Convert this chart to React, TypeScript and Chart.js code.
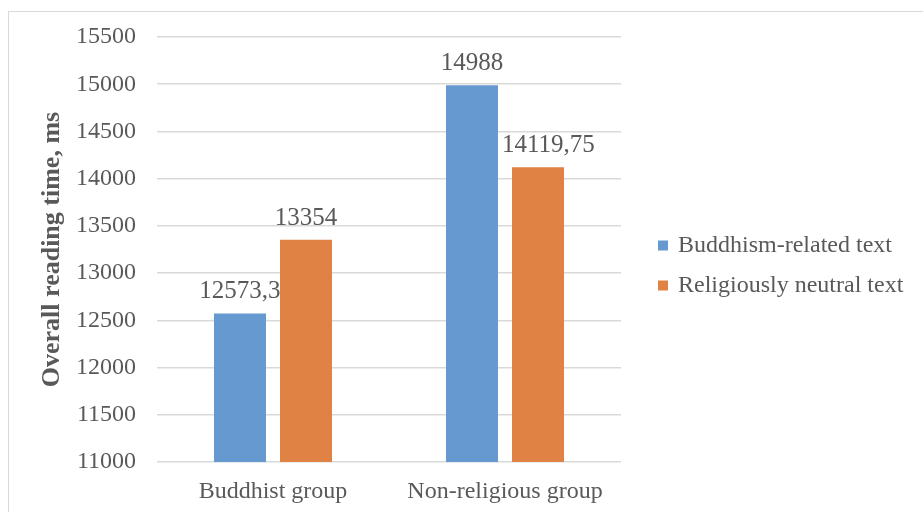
import React, { useEffect, useRef } from "react";
import { Chart, registerables } from "chart.js";

Chart.register(...registerables);

const categories = ["Buddhist group", "Non-religious group"];
const seriesNames = ["Buddhism-related text", "Religiously neutral text"];
const buddhismValues = [12573.3, 14988];
const neutralValues = [13354, 14119.75];
const yTicks = [11000, 11500, 12000, 12500, 13000, 13500, 14000, 14500, 15000, 15500];

const FONT = "'Liberation Serif', 'Times New Roman', serif";
const TEXT = "#595959";
const GRID = "#D9D9D9";

const valueLabels = {
  id: "valueLabels",
  afterDatasetsDraw(chart: any) {
    const ctx = chart.ctx;
    ctx.save();
    ctx.font = `25px ${FONT}`;
    ctx.fillStyle = TEXT;
    ctx.textAlign = "center";
    ctx.textBaseline = "alphabetic";
    chart.data.datasets.forEach((ds: any, i: number) => {
      const meta = chart.getDatasetMeta(i);
      meta.data.forEach((bar: any, j: number) => {
        const text = String(ds.data[j]).replace(".", ",");
        const w = ctx.measureText(text).width;
        let x = bar.x;
        const baseY = bar.y - 15;
        if (i > 0) {
          const prev = chart.getDatasetMeta(i - 1).data[j];
          const prevRight = prev.x + prev.width / 2;
          if (prev.y < baseY && x - w / 2 < prevRight + 4) {
            x = prevRight + 4 + w / 2;
          }
        }
        ctx.fillText(text, x, baseY);
      });
    });
    ctx.restore();
  },
};

const sideLegend = {
  id: "sideLegend",
  afterDraw(chart: any) {
    const ctx = chart.ctx;
    const area = chart.chartArea;
    const cy = (area.top + area.bottom) / 2 + 16;
    const rowGap = 40;
    const n = chart.data.datasets.length;
    const x0 = area.right + 37;
    ctx.save();
    ctx.font = `24px ${FONT}`;
    ctx.textAlign = "left";
    ctx.textBaseline = "middle";
    chart.data.datasets.forEach((ds: any, i: number) => {
      const y = cy + (i - (n - 1) / 2) * rowGap;
      ctx.fillStyle = ds.backgroundColor;
      ctx.fillRect(x0, y - 5, 10, 10);
      ctx.fillStyle = TEXT;
      ctx.fillText(ds.label, x0 + 20, y);
    });
    ctx.restore();
  },
};

export default function App() {
  const ref = useRef<HTMLCanvasElement | null>(null);
  useEffect(() => {
    if (!ref.current) return;
    const chart = new Chart(ref.current, {
      type: "bar",
      data: {
        labels: categories,
        datasets: [
          { label: seriesNames[0], data: buddhismValues, backgroundColor: "#6699D0", borderWidth: 0 },
          { label: seriesNames[1], data: neutralValues, backgroundColor: "#DF8244", borderWidth: 0 },
        ],
      },
      options: {
        animation: false,
        responsive: false,
        devicePixelRatio: 1,
        layout: { padding: { top: 37, left: 0, right: 302, bottom: 0 } },
        datasets: { bar: { barPercentage: 0.788, categoryPercentage: 0.569 } },
        scales: {
          x: {
            grid: { display: false, drawTicks: false },
            border: { display: false },
            ticks: { color: TEXT, font: { family: FONT, size: 24 }, padding: 15 },
            afterFit: (s: any) => { s.height = 50; },
          },
          y: {
            min: 11000,
            max: 15500,
            afterBuildTicks: (s: any) => { s.ticks = yTicks.map((v) => ({ value: v })); },
            grid: { color: GRID, lineWidth: 1.5, drawTicks: false },
            border: { display: false },
            ticks: {
              color: TEXT,
              font: { family: FONT, size: 24 },
              padding: 21,
              callback: (v: any) => String(v),
            },
            title: {
              display: true,
              text: "Overall reading time, ms",
              color: TEXT,
              font: { family: FONT, size: 26, weight: "bold" },
              padding: { top: 37, bottom: 0 },
            },
            afterFit: (s: any) => { s.width = 157; },
          },
        },
        plugins: {
          legend: { display: false },
          tooltip: { enabled: false },
        },
      },
      plugins: [valueLabels, sideLegend],
    } as any);
    return () => chart.destroy();
  }, []);

  return (
    <div style={{ position: "fixed", left: 0, top: 0, width: 923, height: 512, overflow: "hidden", background: "#fff" }}>
      <div
        style={{
          position: "absolute",
          left: 8,
          top: 11,
          width: 2000,
          height: 2000,
          borderTop: "1.5px solid #D9D9D9",
          borderLeft: "1.5px solid #D9D9D9",
        }}
      />
      <canvas ref={ref} width={923} height={512} style={{ position: "absolute", left: 0, top: 0 }} />
    </div>
  );
}
